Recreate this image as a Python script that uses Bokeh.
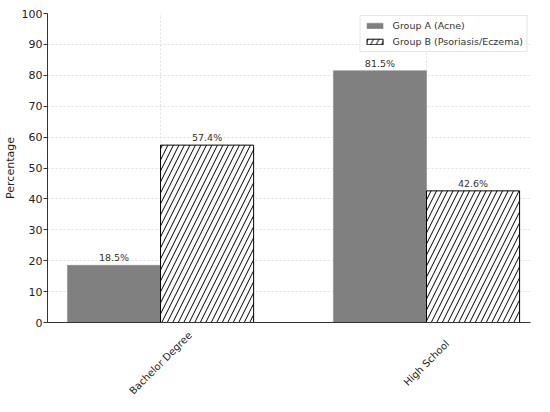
import math
from bokeh.plotting import figure
from bokeh.layouts import column
from bokeh.models import (ColumnDataSource, FixedTicker, Legend, LegendItem, LabelSet, Range1d)
from bokeh.core.properties import value
from bokeh.embed import file_html
from bokeh.resources import INLINE

categories = ["Bachelor Degree", "High School"]
group_a = [18.5, 81.5]
group_b = [57.4, 42.6]
series_names = ["Group A (Acne)", "Group B (Psoriasis/Eczema)"]
y_ticks = [0, 10, 20, 30, 40, 50, 60, 70, 80, 90, 100]

bar_w = 0.35
idx = list(range(len(categories)))
src_a = ColumnDataSource(dict(x=[i - bar_w / 2 for i in idx], top=group_a,
                              lbl=[f"{v:.1f}%" for v in group_a]))
src_b = ColumnDataSource(dict(x=[i + bar_w / 2 for i in idx], top=group_b,
                              lbl=[f"{v:.1f}%" for v in group_b]))
src_cat = ColumnDataSource(dict(x=idx, y=[0.5] * len(idx), name=categories))

FONT = "DejaVu Sans"
W = 534
LEFT = 47
RIGHT = 4
xr = Range1d(-0.425, 1.391)

p = figure(width=W, height=329, output_backend="svg", toolbar_location=None,
           x_range=xr, y_range=Range1d(0, 100),
           min_border_left=LEFT, min_border_right=RIGHT, min_border_top=13, min_border_bottom=7)
p.outline_line_color = None

ra = p.vbar(x="x", top="top", width=bar_w, source=src_a, fill_color="#808080",
            line_color="#808080", line_width=0.5)
rb = p.vbar(x="x", top="top", width=bar_w, source=src_b, fill_color="white",
            line_color="black", line_width=1, hatch_pattern="/", hatch_color="black",
            hatch_scale=11, hatch_weight=1)

for s in (src_a, src_b):
    p.add_layout(LabelSet(x="x", y="top", text="lbl", source=s, text_align="center",
                          text_baseline="bottom", y_offset=2,
                          text_font_size=value("9.5px"),
                          text_color="#333333", text_font=value(FONT)))

p.xaxis.ticker = FixedTicker(ticks=idx)
p.xaxis.major_label_overrides = {i: "" for i in idx}
p.xaxis.major_label_text_font_size = "0px"
p.xaxis.major_label_standoff = 0
p.xaxis.major_tick_out = 0

p.yaxis.ticker = FixedTicker(ticks=y_ticks)
p.yaxis.axis_label = "Percentage"
p.yaxis.major_tick_out = 4

for ax in (p.xaxis, p.yaxis):
    ax.axis_line_color = "#333333"
    ax.major_tick_line_color = "#333333"
    ax.minor_tick_line_color = None
    ax.major_tick_in = 0
    ax.major_label_text_font = FONT
    ax.major_label_text_color = "#222222"
    ax.axis_label_text_font = FONT
    ax.axis_label_text_font_size = "11px"
    ax.axis_label_text_font_style = "normal"
    ax.axis_label_text_color = "#222222"
p.yaxis.major_label_text_font_size = "11px"
p.yaxis.major_label_standoff = 1
p.yaxis.axis_label_standoff = 2

p.grid.grid_line_color = "#d9d9d9"
p.grid.grid_line_dash = "2 2"
p.grid.grid_line_width = 0.8

legend = Legend(items=[LegendItem(label=series_names[0], renderers=[ra]),
                       LegendItem(label=series_names[1], renderers=[rb])],
                location="top_right")
legend.label_text_font = FONT
legend.label_text_font_size = "9.5px"
legend.label_text_color = "#333333"
legend.glyph_width = 20
legend.glyph_height = 7
legend.label_height = 11
legend.label_standoff = 8
legend.spacing = 5
legend.padding = 4
legend.margin = 2
legend.border_line_color = "#cccccc"
legend.border_line_width = 1
legend.background_fill_alpha = 0.9
p.add_layout(legend)

# category labels strip below the plot, sharing the x range
p2 = figure(width=W, height=67, output_backend="svg", toolbar_location=None,
            x_range=xr, y_range=Range1d(0, 1), x_axis_location=None, y_axis_location=None,
            min_border_left=LEFT, min_border_right=RIGHT, min_border_top=0, min_border_bottom=0)
p2.outline_line_color = None
p2.grid.visible = False
p2.text(x="x", y="y", text="name", source=src_cat, angle=math.pi / 4,
        text_align="center", text_baseline="middle",
        text_font=value(FONT), text_font_size=value("10px"), text_color="#222222")

layout = column(p, p2, spacing=0)
open("out.html", "w").write(file_html(layout, INLINE))
